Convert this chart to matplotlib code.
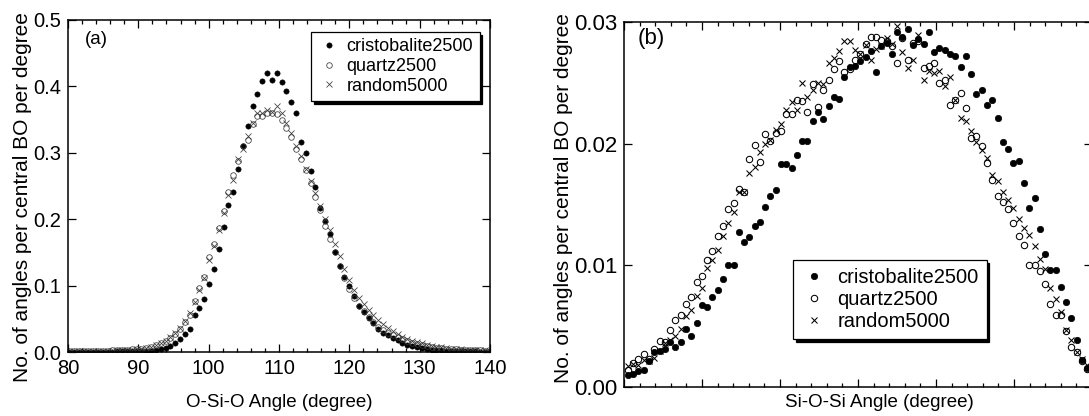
import numpy as np
import matplotlib
matplotlib.use("Agg")
import matplotlib.pyplot as plt
from matplotlib.ticker import MultipleLocator, FormatStrFormatter

plt.rcParams['font.family'] = ['Liberation Sans', 'DejaVu Sans']

# ---------------- Panel (a): O-Si-O angle distribution ----------------
a_start, a_step = 80.12, 0.6875
cristobalite_a = [0.0005, 0.0005, 0.0005, 0.0005, 0.0005, 0.0005, 0.0006, 0.0006, 0.0007, 0.0007,
                  0.0008, 0.0008, 0.0009, 0.0010, 0.0011, 0.0012,
                  0.0015, 0.0020, 0.0030, 0.0040, 0.0060, 0.0085, 0.0135, 0.020, 0.027, 0.034,
                  0.055, 0.066, 0.080, 0.103, 0.125, 0.155, 0.189, 0.222, 0.241, 0.275,
                  0.310, 0.340, 0.371, 0.388, 0.408, 0.420, 0.410, 0.420, 0.406, 0.393,
                  0.377, 0.360, 0.317, 0.300, 0.272, 0.248, 0.217, 0.197, 0.178, 0.151,
                  0.129, 0.113, 0.099, 0.085, 0.069, 0.060, 0.051, 0.043, 0.035, 0.029,
                  0.026, 0.021, 0.018, 0.0135, 0.011, 0.0085, 0.007, 0.0055, 0.0045, 0.0035,
                  0.003, 0.0025, 0.002, 0.0018, 0.0015, 0.0012, 0.001, 0.0009, 0.0008, 0.0007,
                  0.0006, 0.0005]
quartz_a = [0.0015, 0.0015, 0.0015, 0.0015, 0.0018, 0.0018, 0.002, 0.002, 0.0022, 0.0025,
            0.003, 0.003, 0.0035, 0.004, 0.0045, 0.005,
            0.006, 0.008, 0.010, 0.013, 0.017, 0.021, 0.027, 0.035, 0.045, 0.055,
            0.077, 0.097, 0.113, 0.143, 0.163, 0.187, 0.213, 0.241, 0.266, 0.287,
            0.310, 0.320, 0.343, 0.355, 0.355, 0.360, 0.360, 0.358, 0.350, 0.337,
            0.324, 0.305, 0.290, 0.274, 0.254, 0.234, 0.214, 0.190, 0.170, 0.150,
            0.130, 0.112, 0.095, 0.082, 0.070, 0.061, 0.052, 0.045, 0.038, 0.033,
            0.029, 0.025, 0.022, 0.019, 0.016, 0.014, 0.012, 0.010, 0.009, 0.0075,
            0.0065, 0.006, 0.005, 0.0045, 0.004, 0.0035, 0.003, 0.003, 0.0025, 0.0025,
            0.002, 0.002]
random_a = [0.0012, 0.0012, 0.0013, 0.0013, 0.0015, 0.0016, 0.0018, 0.0019, 0.002, 0.0022,
            0.0026, 0.0028, 0.0032, 0.0037, 0.0042, 0.0047,
            0.006, 0.008, 0.011, 0.014, 0.017, 0.022, 0.028, 0.036, 0.047, 0.058,
            0.075, 0.093, 0.112, 0.138, 0.160, 0.183, 0.210, 0.237, 0.259, 0.290,
            0.305, 0.325, 0.345, 0.360, 0.360, 0.365, 0.362, 0.370, 0.360, 0.345,
            0.330, 0.310, 0.295, 0.276, 0.258, 0.239, 0.220, 0.200, 0.184, 0.163,
            0.145, 0.125, 0.108, 0.094, 0.082, 0.072, 0.063, 0.055, 0.048, 0.042,
            0.036, 0.031, 0.027, 0.023, 0.020, 0.017, 0.015, 0.013, 0.011, 0.0095,
            0.008, 0.007, 0.006, 0.005, 0.0045, 0.004, 0.0035, 0.003, 0.003, 0.0025,
            0.0025, 0.002]

# ---------------- Panel (b): Si-O-Si angle distribution ----------------
b_start, b_step = 120.5, 0.677
cristobalite_b = [0.00095, 0.0011, 0.0013, 0.0014, 0.0021, 0.0029, 0.0030, 0.0031, 0.0037, 0.0033,
                  0.0037, 0.0048, 0.0042, 0.0053, 0.0067, 0.0066, 0.0074, 0.0080, 0.0089, 0.0100,
                  0.0100, 0.0127, 0.0119, 0.0123, 0.0132, 0.0136, 0.0148, 0.0157, 0.0162, 0.0183,
                  0.0183, 0.0180, 0.0191, 0.0202, 0.0202, 0.0219, 0.0226, 0.0220, 0.0231, 0.0238,
                  0.0237, 0.0255, 0.0263, 0.0264, 0.0268, 0.0271, 0.0276, 0.0259, 0.0280, 0.0283,
                  0.0274, 0.0292, 0.0288, 0.0294, 0.0281, 0.0286, 0.0282, 0.0292, 0.0275, 0.0279,
                  0.0277, 0.0274, 0.0272, 0.0263, 0.0272, 0.0257, 0.0241, 0.0244, 0.0232, 0.0236,
                  0.0221, 0.0201, 0.0196, 0.0184, 0.0186, 0.0168, 0.0147, 0.0155, 0.0130, 0.0109,
                  0.0096, 0.0096, 0.0082, 0.0070, 0.0057, 0.0039, 0.0022, 0.0016]
quartz_b = [0.0014, 0.0020, 0.0023, 0.0027, 0.0023, 0.0031, 0.0038, 0.0037, 0.0047, 0.0055,
            0.0059, 0.0068, 0.0074, 0.0086, 0.0091, 0.0104, 0.0112, 0.0124, 0.0132, 0.0146,
            0.0151, 0.0163,
            0.0160, 0.0187, 0.0199, 0.0185, 0.0208, 0.0202, 0.0209, 0.0210, 0.0224, 0.0224,
            0.0236, 0.0235, 0.0226, 0.0249, 0.0230, 0.0244, 0.0252, 0.0261, 0.0268, 0.0259,
            0.0261, 0.0269, 0.0274, 0.0282, 0.0288, 0.0288, 0.0285, 0.0284, 0.0280, 0.0266,
            0.0287, 0.0269, 0.0283, 0.0284, 0.0262, 0.0264, 0.0266, 0.0250, 0.0252, 0.0232,
            0.0236, 0.0242, 0.0229, 0.0205, 0.0206, 0.0198, 0.0184, 0.0170, 0.0157,
            0.0152, 0.0146, 0.0135, 0.0124, 0.0117, 0.0100, 0.0100, 0.0095, 0.0085, 0.0068,
            0.0059, 0.0059, 0.0046, 0.0033, 0.0029, 0.0021, 0.0015]
random_b = [0.0017, 0.0019, 0.0018, 0.0022, 0.0021, 0.0024, 0.0030, 0.0036, 0.0039, 0.0042,
            0.0048, 0.0058, 0.0063, 0.0075, 0.0081, 0.0098, 0.0104, 0.0113, 0.0124, 0.0135,
            0.0144, 0.0160, 0.0160,
            0.0176, 0.0181, 0.0193, 0.0200, 0.0203, 0.0211, 0.0216, 0.0228, 0.0234, 0.0228,
            0.0250, 0.0238, 0.0244, 0.0250, 0.0249, 0.0266, 0.0270, 0.0276, 0.0284, 0.0284,
            0.0277, 0.0274, 0.0281, 0.0269, 0.0278, 0.0280, 0.0287, 0.0282, 0.0297, 0.0275,
            0.0262, 0.0269, 0.0289, 0.0252, 0.0260, 0.0258, 0.0260, 0.0247, 0.0255, 0.0236,
            0.0221, 0.0219, 0.0210, 0.0201, 0.0195, 0.0188, 0.0174, 0.0169,
            0.0160, 0.0154, 0.0147, 0.0138, 0.0131, 0.0125, 0.0116, 0.0105, 0.0097, 0.0081,
            0.0072, 0.0062, 0.0047, 0.0039, 0.0029, 0.0023, 0.0018]

series_labels = ['cristobalite2500', 'quartz2500', 'random5000']
ylab = 'No. of angles per central BO per degree'

W, H = 1089, 416
fig = plt.figure(figsize=(W / 100, H / 100), dpi=100)


def ax_at(l, t, r, b):
    return fig.add_axes([l / W, 1 - b / H, (r - l) / W, (b - t) / H])


def style(ax, fs):
    ax.tick_params(which='both', direction='in', top=True, right=True, labelsize=fs,
                   width=0.9, pad=5)
    ax.tick_params(which='major', length=6)
    ax.tick_params(which='minor', length=3)
    for s in ax.spines.values():
        s.set_linewidth(1.1)


def grid(start, step, n):
    return start + step * np.arange(n)


# ---- panel a ----
axa = ax_at(68, 20, 490, 352)
na = min(len(cristobalite_a), len(quartz_a), len(random_a))
xa = grid(a_start, a_step, na)
axa.plot(xa, cristobalite_a[:na], 'o', ms=3.8, mfc='black', mec='black', mew=0.4,
         label=series_labels[0])
axa.plot(xa, quartz_a[:na], 'o', ms=4.0, mfc='none', mec='#3a3a3a', mew=0.55,
         label=series_labels[1])
axa.plot(xa, random_a[:na], 'x', ms=4.0, mec='#3a3a3a', mew=0.55, label=series_labels[2])
axa.set_xlim(80, 140)
axa.set_ylim(0, 0.5)
axa.xaxis.set_major_locator(MultipleLocator(10))
axa.xaxis.set_minor_locator(MultipleLocator(2))
axa.yaxis.set_major_locator(MultipleLocator(0.1))
axa.yaxis.set_major_formatter(FormatStrFormatter('%.1f'))
style(axa, 14.5)
axa.set_ylabel(ylab, fontsize=15)
axa.yaxis.set_label_coords(-0.086, 0.468)
axa.set_xlabel('O-Si-O Angle (degree)', fontsize=13.5)
axa.xaxis.set_label_coords(0.5, -0.128)
axa.text(0.04, 0.928, '(a)', transform=axa.transAxes, fontsize=13.5)
lega = axa.legend(loc='upper left', bbox_to_anchor=(0.577, 0.964), borderaxespad=0,
                  fontsize=13, frameon=True, fancybox=False, framealpha=1,
                  edgecolor='black', handletextpad=0.4, borderpad=0.35,
                  labelspacing=0.15, handlelength=1.2,
                  shadow={'color': 'black', 'alpha': 1})
lega.get_frame().set_linewidth(0.9)

# ---- panel b ----
axb = ax_at(624, 22, 1092, 387)
nb = min(len(cristobalite_b), len(quartz_b), len(random_b))
xb = grid(b_start, b_step, nb)
axb.plot(xb, cristobalite_b[:nb], 'o', ms=4.6, mfc='black', mec='black', mew=0.5,
         label=series_labels[0])
axb.plot(xb, quartz_b[:nb], 'o', ms=4.6, mfc='none', mec='black', mew=0.75,
         label=series_labels[1])
axb.plot(xb, random_b[:nb], 'x', ms=4.8, mec='black', mew=0.75, label=series_labels[2])
axb.set_xlim(120, 180)
axb.set_ylim(0, 0.03)
axb.xaxis.set_major_locator(MultipleLocator(10))
axb.xaxis.set_minor_locator(MultipleLocator(2))
axb.yaxis.set_major_locator(MultipleLocator(0.01))
axb.yaxis.set_major_formatter(FormatStrFormatter('%.2f'))
style(axb, 16)
axb.tick_params(axis='x', labelbottom=False)
axb.set_ylabel(ylab, fontsize=15)
axb.yaxis.set_label_coords(-0.109, 0.518)
axb.set_xlabel('Si-O-Si Angle (degree)', fontsize=13.5)
axb.xaxis.set_label_coords(0.546, -0.02)
axb.text(0.03, 0.94, '(b)', transform=axb.transAxes, fontsize=16)
legb = axb.legend(loc='upper left', bbox_to_anchor=(0.361, 0.348), borderaxespad=0,
                  fontsize=14.5, frameon=True, fancybox=False, framealpha=1,
                  edgecolor='black', handletextpad=0.5, borderpad=0.4,
                  labelspacing=0.15, handlelength=1.3,
                  shadow={'color': 'black', 'alpha': 1})
legb.get_frame().set_linewidth(0.9)

fig.savefig('out.png', dpi=100)
